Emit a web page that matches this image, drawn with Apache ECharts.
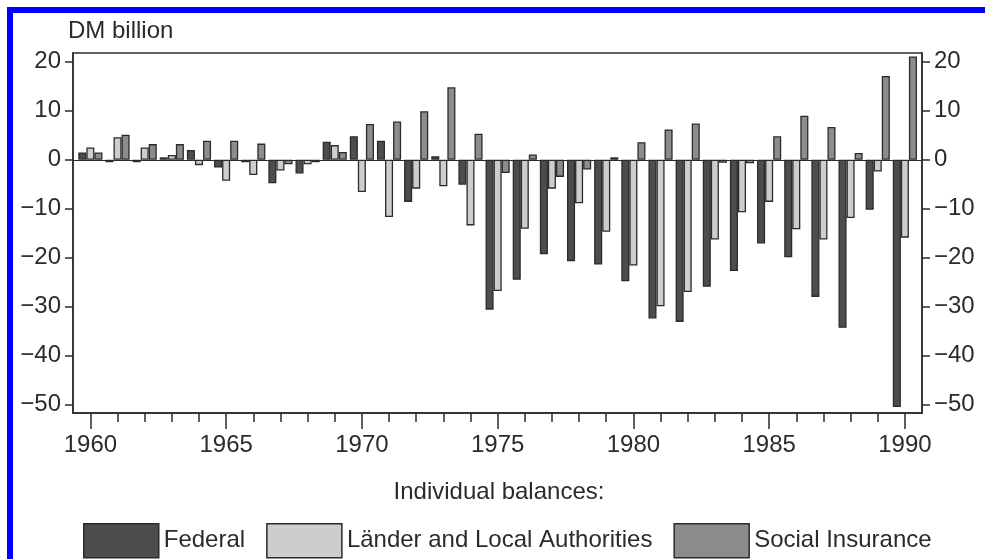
<!DOCTYPE html>
<html>
<head>
<meta charset="utf-8">
<title>Public sector balances, 1960–1990</title>
<script src="https://cdn.jsdelivr.net/npm/echarts@6/dist/echarts.min.js"></script>
<style>
  html, body { margin: 0; padding: 0; background: #fff; }
  #chart { width: 985px; height: 559px; }
</style>
</head>
<body>
<div id="chart"></div>
<script>
// Budget balances by level of government, DM billion
const years = [1960, 1961, 1962, 1963, 1964, 1965, 1966, 1967, 1968, 1969,
               1970, 1971, 1972, 1973, 1974, 1975, 1976, 1977, 1978, 1979,
               1980, 1981, 1982, 1983, 1984, 1985, 1986, 1987, 1988, 1989, 1990];

const federal = [1.5, -0.5, -0.5, 0.5, 2.0, -1.6, -0.5, -4.8, -2.8, 3.7,
                 4.8, 3.9, -8.6, 0.7, -5.1, -30.6, -24.5, -19.3, -20.7, -21.4,
                 -24.8, -32.4, -33.1, -25.9, -22.7, -17.1, -19.9, -28.0, -34.3, -10.2, -50.5];

const laender = [2.5, 4.6, 2.5, 1.0, -1.1, -4.3, -3.1, -2.2, -0.9, 3.0,
                 -6.6, -11.7, -5.9, -5.4, -13.4, -26.8, -14.1, -5.9, -8.9, -14.7,
                 -21.6, -29.9, -27.0, -16.3, -10.7, -8.6, -14.2, -16.3, -11.9, -2.4, -15.9];

const social = [1.5, 5.1, 3.2, 3.2, 3.9, 3.9, 3.3, -0.9, -0.5, 1.6,
                7.3, 7.8, 9.9, 14.8, 5.3, -2.7, 1.1, -3.5, -2.0, 0.5,
                3.6, 6.2, 7.4, -0.6, -0.7, 4.8, 9.0, 6.7, 1.4, 17.1, 21.1];

const seriesNames = ['Federal', 'Länder and Local Authorities', 'Social Insurance'];
const yearLabels = [1960, 1965, 1970, 1975, 1980, 1985, 1990];
const valueTicks = [-50, -40, -30, -20, -10, 0, 10, 20];

const FONT = '"Liberation Sans", Arial, Helvetica, sans-serif';
const INK = '#2b2b2b';
const X_MIN = 1959.36, X_MAX = 1990.63;
const Y_MIN = -51.7, Y_MAX = 21.8;
const gridBox = { left: 73, right: 63, top: 53, bottom: 146 };

const pairs = vals => years.map((y, i) => [y, vals[i]]);
const fmt = v => (v < 0 ? '\u2212' + Math.abs(v) : String(v));

function barSeries(name, vals, fill) {
  return {
    name: name,
    type: 'bar',
    xAxisIndex: 0,
    yAxisIndex: 0,
    data: pairs(vals),
    barGap: '0%',
    barCategoryGap: '11%',
    itemStyle: { color: fill, borderColor: INK, borderWidth: 1.3 }
  };
}

const yAxisBase = {
  type: 'value',
  gridIndex: 0,
  min: Y_MIN,
  max: Y_MAX,
  splitLine: { show: false },
  axisLine: { show: true, onZero: false, lineStyle: { color: INK, width: 1.5 } },
  axisTick: { show: true, customValues: valueTicks, length: 8, lineStyle: { color: INK, width: 1.5 } },
  axisLabel: { customValues: valueTicks, formatter: fmt, fontSize: 24, color: INK, fontFamily: FONT, margin: 12 }
};

const series = [
  barSeries(seriesNames[0], federal, '#4d4d4d'),
  barSeries(seriesNames[1], laender, '#cdcdcd'),
  barSeries(seriesNames[2], social, '#8c8c8c')
];
// zero baseline across the plot
series[0].markLine = {
  silent: true,
  symbol: 'none',
  label: { show: false },
  lineStyle: { color: INK, width: 1.2, type: 'solid' },
  data: [{ yAxis: 0 }]
};

const option = {
  animation: false,
  backgroundColor: '#ffffff',
  grid: [
    Object.assign({ show: true, borderColor: INK, borderWidth: 1.5, backgroundColor: 'transparent' }, gridBox),
    Object.assign({ show: false }, gridBox)
  ],
  xAxis: [
    {
      type: 'value', gridIndex: 0, min: X_MIN, max: X_MAX, position: 'bottom',
      splitLine: { show: false },
      axisLine: { show: true, onZero: false, lineStyle: { color: INK, width: 1.5 } },
      axisTick: { show: true, customValues: years, length: 9, lineStyle: { color: INK, width: 1.5 } },
      axisLabel: { show: false }
    },
    {
      type: 'value', gridIndex: 1, min: X_MIN, max: X_MAX, position: 'bottom',
      splitLine: { show: false },
      axisLine: { show: false, onZero: false },
      axisTick: { show: true, customValues: yearLabels, length: 16, lineStyle: { color: INK, width: 1.5 } },
      axisLabel: { customValues: yearLabels, formatter: v => String(v), fontSize: 24, color: INK, fontFamily: FONT, margin: 20 }
    }
  ],
  yAxis: [
    Object.assign({}, yAxisBase, { position: 'left' }),
    Object.assign({}, yAxisBase, { position: 'right' }),
    { type: 'value', gridIndex: 1, min: Y_MIN, max: Y_MAX, show: false }
  ],
  legend: {
    data: seriesNames,
    left: 78,
    top: 518,
    icon: 'rect',
    itemWidth: 75,
    itemHeight: 34,
    itemGap: 21,
    selectedMode: false,
    itemStyle: { borderColor: INK, borderWidth: 1.5 },
    textStyle: { fontSize: 24, color: INK, fontFamily: FONT }
  },
  graphic: [
    { type: 'rect', silent: true, shape: { x: 7, y: 7, width: 978, height: 6 }, style: { fill: '#0000ff' } },
    { type: 'rect', silent: true, shape: { x: 7, y: 7, width: 6, height: 552 }, style: { fill: '#0000ff' } },
    { type: 'text', silent: true, x: 68, y: 31,
      style: { text: 'DM billion', fill: INK, font: '24px ' + FONT, align: 'left', verticalAlign: 'middle' } },
    { type: 'text', silent: true, x: 499, y: 492,
      style: { text: 'Individual balances:', fill: INK, font: '24px ' + FONT, align: 'center', verticalAlign: 'middle' } }
  ],
  series: series
};

echarts.init(document.getElementById('chart'), null, { renderer: 'canvas' }).setOption(option);
</script>
</body>
</html>
